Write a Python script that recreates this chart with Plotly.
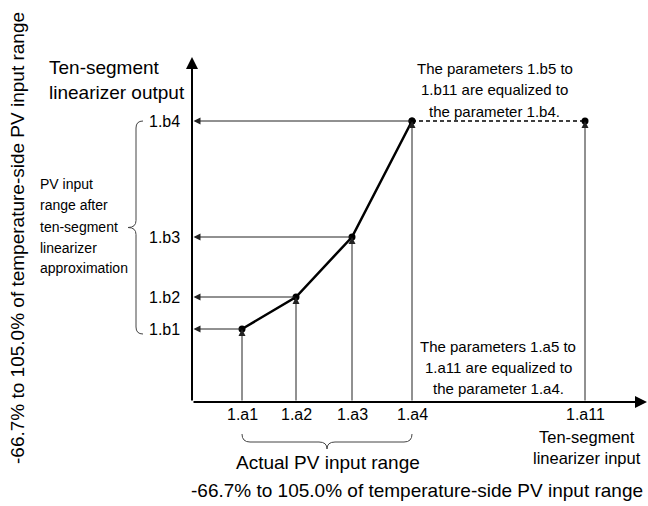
import plotly.graph_objects as go

# Breakpoints of the ten-segment linearizer (input a, output b)
a_labels = ["1.a1", "1.a2", "1.a3", "1.a4"]
a_vals = [1.0, 2.08, 3.2, 4.4]
b_labels = ["1.b1", "1.b2", "1.b3", "1.b4"]
b_vals = [1.46, 2.1, 3.3, 5.62]
a11_label = "1.a11"
a11_val = 7.86

W, H = 648, 506
UNIT = 50.0          # pixels per data unit on both axes
ORIGIN = (192, 402)  # pixel position of the axis origin

X_RANGE = [-ORIGIN[0] / UNIT, (W - ORIGIN[0]) / UNIT]
Y_RANGE = [-(H - ORIGIN[1]) / UNIT, ORIGIN[1] / UNIT]

FONT = "Liberation Sans, Arial, Helvetica, sans-serif"


def px(x):
    return x / W


def py(y):
    return 1 - y / H


fig = go.Figure()

# Piecewise-linear characteristic
fig.add_trace(go.Scatter(
    x=a_vals, y=b_vals, mode="lines+markers",
    line=dict(color="black", width=2.5),
    marker=dict(size=7, color="black"),
    hoverinfo="skip", showlegend=False,
))
# Flat continuation up to 1.a11
fig.add_trace(go.Scatter(
    x=[a_vals[-1], a11_val], y=[b_vals[-1], b_vals[-1]], mode="lines+markers",
    line=dict(color="black", width=1.6, dash="4px,3px"),
    marker=dict(size=7, color="black"),
    hoverinfo="skip", showlegend=False,
))

ann = []


def arrow(x_head, y_head, x_tail, y_tail, width=1, size=1.4, color="#222"):
    ann.append(dict(
        x=x_head, y=y_head, ax=x_tail, ay=y_tail,
        xref="x", yref="y", axref="x", ayref="y",
        text="", showarrow=True, arrowhead=2, arrowsize=size,
        arrowwidth=width, arrowcolor=color, standoff=0, startstandoff=0,
    ))


# Axes
arrow(X_RANGE[1] - 0.02, 0, 0, 0, width=2, size=1.2, color="black")
arrow(0, (ORIGIN[1] - 57) / UNIT, 0, 0, width=2, size=1.2, color="black")

# Projection arrows
for xa, yb in zip(a_vals, b_vals):
    arrow(xa, yb, xa, 0)       # from input axis up to the curve
    arrow(0.03, yb, xa, yb)     # from the curve to the output axis
arrow(a11_val, b_vals[-1], a11_val, 0)

# Tick labels
for xa, lab in zip(a_vals, a_labels):
    ann.append(dict(x=xa, y=py(414), xref="x", yref="paper", text=lab,
                    showarrow=False, font=dict(size=16, family=FONT, color="black"),
                    xanchor="center", yanchor="middle"))
ann.append(dict(x=a11_val, y=py(414), xref="x", yref="paper", text=a11_label,
                showarrow=False, font=dict(size=16, family=FONT, color="black"),
                xanchor="center", yanchor="middle"))
for yb, lab in zip(b_vals, b_labels):
    ann.append(dict(x=px(182), y=yb, xref="paper", yref="y", text=lab,
                    showarrow=False, font=dict(size=16, family=FONT, color="black"),
                    xanchor="right", yanchor="middle"))


def text(x, y, s, size, anchor="center", angle=0):
    ann.append(dict(x=px(x), y=py(y), xref="paper", yref="paper", text=s,
                    showarrow=False, textangle=angle, align=anchor if anchor != "center" else "center",
                    font=dict(size=size, family=FONT, color="black"),
                    xanchor=anchor, yanchor="middle"))


# Axis titles
text(47, 80, "Ten-segment<br>linearizer output", 19, anchor="left")
text(587, 447.5, "Ten-segment<br>linearizer input", 16.5)
text(328, 462, "Actual PV input range", 19)
text(417, 490, "-66.7% to 105.0% of temperature-side PV input range", 19)
text(18, 238, "-66.7% to 105.0% of temperature-side PV input range", 19, angle=-90)

# Notes
for y, s in zip([68, 90, 111], ["The parameters 1.b5 to", "1.b11 are equalized to",
                                "the parameter 1.b4."]):
    text(495, y, s, 15)
for y, s in zip([346, 367, 388], ["The parameters 1.a5 to", "1.a11 are equalized to",
                                  "the parameter 1.a4."]):
    text(498, y, s, 15)
for y, s in zip([184, 205, 227, 248, 268], ["PV input", "range after", "ten-segment",
                                            "linearizer", "approximation"]):
    text(38, y, s, 14, anchor="left")

# Curly braces
x0, x1 = a_vals[0], a_vals[-1]
xm = (x0 + x1) / 2
yt, yf, yp, r = -0.64, -0.80, -0.94, 0.16
bottom_brace = (f"M{x0},{yt} Q{x0},{yf} {x0 + r},{yf} L{xm - r},{yf} "
                f"Q{xm},{yf} {xm},{yp} Q{xm},{yf} {xm + r},{yf} "
                f"L{x1 - r},{yf} Q{x1},{yf} {x1},{yt}")

ytop, ybot = b_vals[-1], b_vals[0] - 0.1
ymid = (ytop + ybot) / 2
xe, xv, xt, r2 = -0.98, -1.12, -1.28, 0.14
left_brace = (f"M{xe},{ytop} Q{xv},{ytop} {xv},{ytop - r2} L{xv},{ymid + r2} "
              f"Q{xv},{ymid} {xt},{ymid} Q{xv},{ymid} {xv},{ymid - r2} "
              f"L{xv},{ybot + r2} Q{xv},{ybot} {xe},{ybot}")

shapes = [
    dict(type="path", path=bottom_brace, xref="x", yref="y",
         line=dict(color="#444", width=1)),
    dict(type="path", path=left_brace, xref="x", yref="y",
         line=dict(color="#444", width=1)),
]

fig.update_layout(
    width=W, height=H, margin=dict(l=0, r=0, t=0, b=0),
    paper_bgcolor="white", plot_bgcolor="white",
    xaxis=dict(range=X_RANGE, visible=False, fixedrange=True),
    yaxis=dict(range=Y_RANGE, visible=False, fixedrange=True),
    annotations=ann, shapes=shapes, showlegend=False,
)

fig.write_html("out.html", config={"displayModeBar": False})
